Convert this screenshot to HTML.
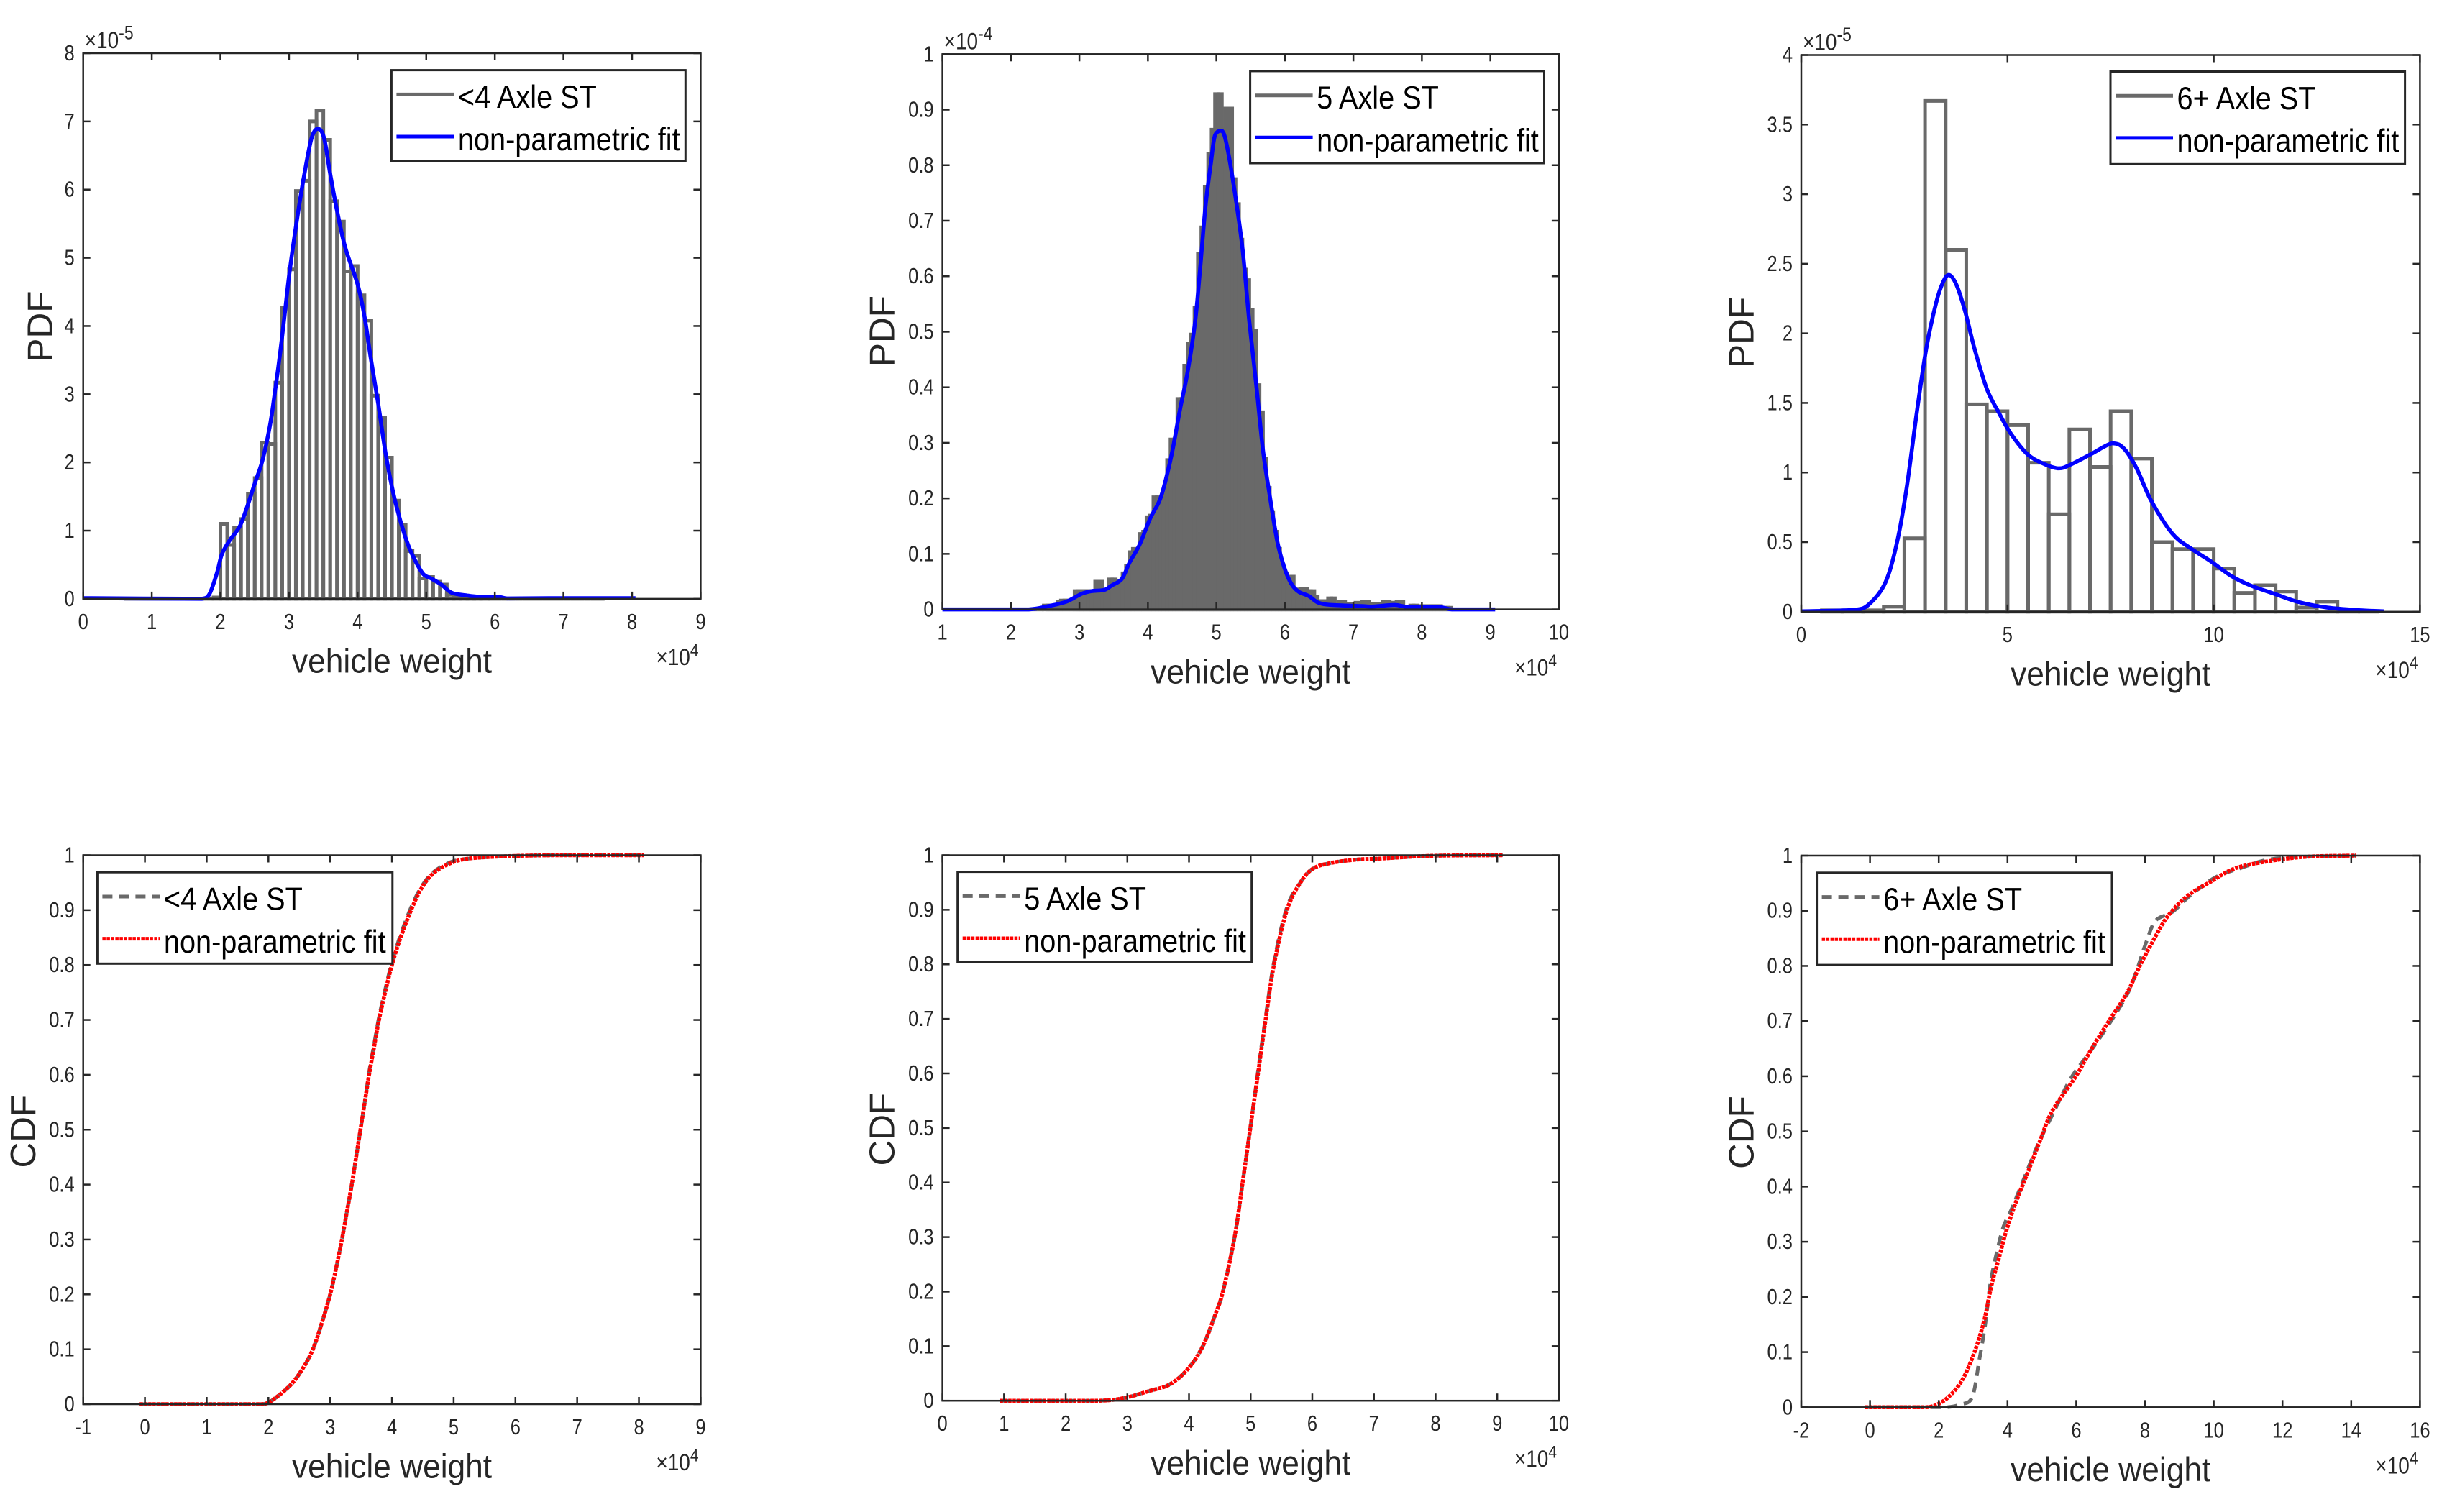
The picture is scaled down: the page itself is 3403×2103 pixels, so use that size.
<!DOCTYPE html>
<html lang="en">
<head>
<meta charset="utf-8">
<title>Vehicle weight PDF and CDF by axle class</title>
<style>
html,body{margin:0;padding:0;background:#fff;width:3403px;height:2103px;overflow:hidden}
svg{display:block;font-family:"Liberation Sans",Arial,sans-serif}
</style>
</head>
<body>
<svg id="figure" xmlns="http://www.w3.org/2000/svg" width="3403" height="2103" viewBox="0 0 3403 2103"></svg>
<script>
// ---------- tick labels ----------
const ticksX4Axle = [0,1,2,3,4,5,6,7,8,9];
const ticksY4Axle = [0,1,2,3,4,5,6,7,8];
const ticksX5Axle = [1,2,3,4,5,6,7,8,9,10];
const ticksY5Axle = [0,0.1,0.2,0.3,0.4,0.5,0.6,0.7,0.8,0.9,1];
const ticksX6Axle = [0,5,10,15];
const ticksY6Axle = [0,0.5,1,1.5,2,2.5,3,3.5,4];
const ticksCdfX4 = [-1,0,1,2,3,4,5,6,7,8,9];
const ticksCdfX5 = [0,1,2,3,4,5,6,7,8,9,10];
const ticksCdfX6 = [-2,0,2,4,6,8,10,12,14,16];
const ticksCdfY = [0,0.1,0.2,0.3,0.4,0.5,0.6,0.7,0.8,0.9,1];

// ---------- histograms (PDF panels) ----------
const hist4Start = 0.6;
const hist4Width = 0.1;
const hist4Values = [0,0,0,0,0,0,0,0,0,0,0,0,0,0.02,
 1.10,0.79,1.04,1.17,1.54,1.77,2.29,2.27,3.17,4.27,4.83,5.98,6.13,7.0,7.16,6.73,5.83,5.53,4.8,4.88,4.45,4.08,2.98,2.65,2.07,1.44,1.09,0.70,0.63,0.30,0.32,0.25,0.21,
 0.06,0.05,0.04,0.02,0.01,0.01,0,0,0,0,0,0,0,0,0,0,0,0,0,0,0,0,0];

const hist5Start = 1.73;
const hist5Width = 0.05;
const hist5Values = [0,0,0,0,0,0,0,0,0,0,0,0,0,0,0,
 0.007,0.007,0.007,0.007,0.014,0.016,0.016,0.016,0.016,0.033,0.033,0.033,0.033,0.033,0.033,0.05,0.05,0.033,0.033,0.054,0.054,0.051,0.051,0.065,0.079,0.103,0.109,0.109,0.136,0.14,0.166,0.169,0.202,0.202,0.2,0.217,0.269,0.306,0.306,0.379,0.379,0.439,0.478,0.495,0.544,0.641,0.688,0.761,0.82,0.864,0.928,0.928,0.864,0.902,0.902,
 0.775,0.73,0.666,0.612,0.593,0.539,0.502,0.404,0.355,0.272,0.219,0.174,0.14,0.109,0.08,0.065,0.059,0.059,0.036,0.031,0.037,0.037,0.033,0.033,0.023,0.015,0.015,0.015,0.02,0.02,0.008,0.014,0.014,0.01,0.01,0.01,0.012,0.008,0.014,0.014,0.006,0.01,0.01,0.006,0.014,0.014,0.012,0.012,0.014,0.014,0.005,0.005,0.007,0.007,0.006,0.006,0.002,0.006,0.006,0.006,0.006,0.003,0.003,0.003];

const hist6Start = 0.5;
const hist6Width = 0.5;
const hist6Values = [0.01,0.01,0.01,0.036,0.527,3.67,2.6,1.49,1.44,1.34,1.07,0.70,1.31,1.04,1.44,1.10,0.5,0.45,0.45,0.31,0.135,0.19,0.145,0.03,0.072,0.01,0];

// ---------- non-parametric fits (PDF panels) ----------
const pdf4X = [0,1.73,1.84,1.95,2.02,2.13,2.28,2.39,2.5,2.61,2.72,2.79,2.87,2.94,3.01,3.125,3.235,3.33,3.42,3.51,3.6,3.7,3.82,4.0,4.1,4.19,4.3,4.41,4.52,4.63,4.74,4.85,4.96,5.07,5.22,5.37,5.59,5.77,6.07,6.18,6.87,8.05];
const pdf4Y = [0.01,0,0.07,0.38,0.65,0.85,1.06,1.35,1.69,2.02,2.53,3.0,3.6,4.2,4.81,5.62,6.29,6.76,6.89,6.76,6.23,5.69,5.15,4.61,4.14,3.54,2.86,2.12,1.55,1.12,0.78,0.54,0.36,0.3,0.21,0.09,0.05,0.03,0.025,0.005,0.01,0.01];

const pdf5X = [1,2.26,2.55,2.81,3.03,3.18,3.36,3.47,3.62,3.73,3.88,4.03,4.17,4.26,4.36,4.47,4.58,4.69,4.76,4.84,4.92,4.98,5.08,5.15,5.26,5.38,5.48,5.59,5.68,5.78,5.89,5.99,6.09,6.2,6.35,6.49,6.68,7.12,7.27,7.6,7.82,8.26,8.44,9.07];
const pdf5Y = [0,0,0.006,0.014,0.028,0.033,0.035,0.043,0.055,0.084,0.117,0.163,0.196,0.233,0.287,0.361,0.428,0.519,0.61,0.725,0.804,0.854,0.862,0.837,0.758,0.651,0.519,0.395,0.287,0.204,0.122,0.076,0.047,0.032,0.024,0.012,0.008,0.006,0.005,0.008,0.004,0.004,0,0];

const pdf6X = [0,1.28,1.63,2.04,2.33,2.56,2.8,3.03,3.27,3.44,3.58,3.76,3.97,4.2,4.5,4.79,5.08,5.49,5.9,6.25,6.55,7.01,7.54,7.83,8.13,8.48,9.0,9.47,9.94,10.41,10.88,11.46,12.05,12.75,13.57,14.12];
const pdf6Y = [0.003,0.013,0.05,0.21,0.51,0.9,1.43,1.89,2.22,2.37,2.42,2.35,2.16,1.89,1.6,1.43,1.28,1.13,1.06,1.03,1.06,1.13,1.21,1.17,1.03,0.8,0.56,0.45,0.36,0.26,0.19,0.13,0.07,0.03,0.01,0.003];

// ---------- CDF series ----------
const cdf4X = [-0.085,1.9,2.06,2.35,2.55,2.72,2.87,3.0,3.1,3.19,3.27,3.35,3.42,3.49,3.56,3.63,3.71,3.79,3.89,4.0,4.14,4.31,4.48,4.68,4.96,5.25,5.82,6.64,8.08];
const cdf4Fit = [0,0,0.007,0.034,0.064,0.1,0.15,0.2,0.25,0.3,0.35,0.4,0.45,0.5,0.55,0.6,0.65,0.7,0.75,0.8,0.85,0.9,0.94,0.968,0.986,0.994,0.998,1,1];
const cdf4Emp = [0,0,0.007,0.034,0.064,0.1,0.15,0.2,0.25,0.3,0.35,0.4,0.45,0.5,0.55,0.605,0.655,0.705,0.755,0.805,0.855,0.905,0.943,0.97,0.988,0.994,0.998,1,1];

const cdf5X = [0.93,2.55,2.95,3.36,3.69,3.98,4.22,4.43,4.55,4.74,4.87,4.995,5.12,5.245,5.38,5.59,5.82,6.02,6.31,6.72,7.13,7.95,9.09];
const cdf5Fit = [0,0,0.005,0.018,0.03,0.058,0.099,0.159,0.2,0.3,0.4,0.5,0.6,0.7,0.8,0.9,0.952,0.976,0.986,0.992,0.994,0.999,1];
const cdf5Emp = [0,0,0.005,0.018,0.03,0.058,0.099,0.159,0.2,0.3,0.4,0.5,0.605,0.705,0.805,0.905,0.952,0.976,0.986,0.992,0.994,0.999,1];

const cdf6FitX = [-0.15,1.64,1.99,2.34,2.69,3.04,3.32,3.53,3.74,3.96,4.24,4.59,4.94,5.3,5.99,6.45,6.95,7.47,7.85,8.24,8.66,9.22,9.92,10.63,11.61,12.73,14.14];
const cdf6Fit = [0,0,0.006,0.022,0.05,0.1,0.157,0.22,0.268,0.319,0.371,0.426,0.482,0.537,0.6,0.65,0.7,0.75,0.8,0.846,0.89,0.926,0.953,0.977,0.99,0.998,1];
const cdf6EmpX = [-0.15,2.2,2.62,2.97,3.18,3.35,3.49,3.67,3.88,4.09,4.45,4.87,5.36,5.85,6.41,6.97,7.47,7.75,8.03,8.31,8.8,9.36,10.06,10.77,11.61,12.73,14.14];
const cdf6Emp = [0,0,0.005,0.018,0.086,0.149,0.22,0.276,0.327,0.355,0.41,0.474,0.537,0.597,0.645,0.696,0.747,0.79,0.842,0.882,0.898,0.93,0.961,0.977,0.993,0.998,1];

// ---------- layout (panel frames, not data) ----------
const NS = 'http://www.w3.org/2000/svg';
const svg = document.getElementById('figure');
const INK = '#262626', GREY = '#696969';
const panels = [
 {id:'pdf-4-axle',l:115.7,r:974.4,t:74,b:832.9,xMin:0,xMax:9,yMin:0,yMax:8,xt:ticksX4Axle,yt:ticksY4Axle,yl:'PDF',yx:72.3,yc:454,exp:'-5',leg:[544.4,97.6,408.9,126.3],name:'<4 Axle ST',hist:[hist4Start,hist4Width,hist4Values],fitX:pdf4X,fitY:pdf4Y},
 {id:'pdf-5-axle',l:1310.6,r:2167.9,t:75.3,b:847.6,xMin:1,xMax:10,yMin:0,yMax:1,xt:ticksX5Axle,yt:ticksY5Axle,yl:'PDF',yx:1243.3,yc:460.5,exp:'-4',leg:[1738.6,98.9,408.9,128.1],name:'5 Axle ST',hist:[hist5Start,hist5Width,hist5Values],fitX:pdf5X,fitY:pdf5Y},
 {id:'pdf-6-axle',l:2505,r:3365.4,t:76.5,b:850.8,xMin:0,xMax:15,yMin:0,yMax:4,xt:ticksX6Axle,yt:ticksY6Axle,yl:'PDF',yx:2438.6,yc:462.4,exp:'-5',leg:[2935,99.5,409.6,128.8],name:'6+ Axle ST',hist:[hist6Start,hist6Width,hist6Values],fitX:pdf6X,fitY:pdf6Y},
 {id:'cdf-4-axle',l:115.7,r:974.4,t:1189.5,b:1953,xMin:-1,xMax:9,yMin:0,yMax:1,xt:ticksCdfX4,yt:ticksCdfY,yl:'CDF',yx:49,yc:1573.7,leg:[135.4,1213.2,410.4,127.1],name:'<4 Axle ST',empX:cdf4X,empY:cdf4Emp,fitX:cdf4X,fitY:cdf4Fit},
 {id:'cdf-5-axle',l:1310.6,r:2167.9,t:1189.5,b:1948.2,xMin:0,xMax:10,yMin:0,yMax:1,xt:ticksCdfX5,yt:ticksCdfY,yl:'CDF',yx:1243.3,yc:1570.7,leg:[1331.7,1212.6,409,125.8],name:'5 Axle ST',empX:cdf5X,empY:cdf5Emp,fitX:cdf5X,fitY:cdf5Fit},
 {id:'cdf-6-axle',l:2505,r:3365.4,t:1190,b:1957.3,xMin:-2,xMax:16,yMin:0,yMax:1,xt:ticksCdfX6,yt:ticksCdfY,yl:'CDF',yx:2438.6,yc:1575,leg:[2526.6,1213.8,410.4,128.3],name:'6+ Axle ST',empX:cdf6EmpX,empY:cdf6Emp,fitX:cdf6FitX,fitY:cdf6Fit}
];

function make(tag, attrs, parent){
  const e = document.createElementNS(NS, tag);
  for (const k in attrs) e.setAttribute(k, attrs[k]);
  parent.appendChild(e);
  return e;
}
function label(parent, str, x, y, size, anchor, sy, color){
  const e = make('text',{transform:'translate('+x+','+y+') scale(1,'+sy+')','font-size':size,'text-anchor':anchor,fill:color},parent);
  e.textContent = str;
  return e;
}
// smooth path through the data points (Catmull-Rom, controls clamped to the segment's y-range)
function curvePath(xs, ys, sx, sy){
  const pts = xs.map(function(v,i){return [sx(v), sy(ys[i])];});
  let d = 'M'+pts[0][0].toFixed(2)+' '+pts[0][1].toFixed(2);
  for (let i=0;i<pts.length-1;i++){
    const p0 = pts[Math.max(i-1,0)], p1 = pts[i], p2 = pts[i+1], p3 = pts[Math.min(i+2,pts.length-1)];
    const lo = Math.min(p1[1],p2[1]), hi = Math.max(p1[1],p2[1]);
    const dx = p2[0]-p1[0];
    const c1x = p1[0]+Math.min((p2[0]-p0[0])/6,dx/2), c2x = p2[0]-Math.min((p3[0]-p1[0])/6,dx/2);
    const c1y = Math.min(hi,Math.max(lo,p1[1]+(p2[1]-p0[1])*0.1667)), c2y = Math.min(hi,Math.max(lo,p2[1]-(p3[1]-p1[1])*0.1667));
    d += ' C'+c1x.toFixed(2)+' '+c1y.toFixed(2)+' '+c2x.toFixed(2)+' '+c2y.toFixed(2)+' '+p2[0].toFixed(2)+' '+p2[1].toFixed(2);
  }
  return d;
}

panels.forEach(function(p){
  const g = make('g',{},svg);
  
  
  const sx = function(v){return p.l + (v-p.xMin)/(p.xMax-p.xMin)*(p.r-p.l);};
  const sy = function(v){return p.b - (v-p.yMin)/(p.yMax-p.yMin)*(p.b-p.t);};

  const isPdf = !!p.hist;
  if (isPdf) {
    const hg = make('g',{fill:'none',stroke:GREY,'stroke-width':5,'stroke-linejoin':'miter'},g);
    
    
    p.hist[2].forEach(function(v,i){
      const x0 = sx(p.hist[0]+i*p.hist[1]), x1 = sx(p.hist[0]+(i+1)*p.hist[1]);
      const bar = make('path',{d:'M'+x0.toFixed(2)+' '+sy(0)+' L'+x0.toFixed(2)+' '+sy(v).toFixed(2)+' L'+x1.toFixed(2)+' '+sy(v).toFixed(2)+' L'+x1.toFixed(2)+' '+sy(0)+' Z'},hg);
      
      
    });
    const fit = make('path',{d:curvePath(p.fitX,p.fitY,sx,sy),fill:'none',stroke:'#0000ff','stroke-width':5.5,'stroke-linejoin':'round'},g);
    
    
  } else {
    const emp = make('path',{d:curvePath(p.empX,p.empY,sx,sy),fill:'none',stroke:GREY,'stroke-width':5,'stroke-dasharray':'14 9'},g);
    
    
    const fit = make('path',{d:curvePath(p.fitX,p.fitY,sx,sy),fill:'none',stroke:'#ff0000','stroke-width':5.5,'stroke-dasharray':'4.5 1.5'},g);
    
    
  }

  // frame
  const frame = make('rect',{x:p.l,y:p.t,width:p.r-p.l,height:p.b-p.t,fill:'none',stroke:INK,'stroke-width':2.5},g);
  
  

  // ticks
  p.xt.forEach(function(v){
    const x = sx(v);
    const t1 = make('line',{x1:x,x2:x,y1:p.b,y2:p.b-10,stroke:INK,'stroke-width':2.5},g);
    
    
    const t2 = make('line',{x1:x,x2:x,y1:p.t,y2:p.t+10,stroke:INK,'stroke-width':2.5},g);
    
    
    const tl = label(g,String(v),x,p.b+42,25.5,'middle',1.18,INK);
    
    
  });
  p.yt.forEach(function(v){
    const y = sy(v);
    const t1 = make('line',{x1:p.l,x2:p.l+10,y1:y,y2:y,stroke:INK,'stroke-width':2.5},g);
    
    
    const t2 = make('line',{x1:p.r,x2:p.r-10,y1:y,y2:y,stroke:INK,'stroke-width':2.5},g);
    
    
    const tl = label(g,String(v),p.l-12,y+10,25.5,'end',1.18,INK);
    
    
  });

  // axis titles
  const xTitle = label(g,'vehicle weight',(p.l+p.r)/2,p.b+102.7,44.3,'middle',1.06,INK);
  
  
  const yTitle = make('text',{transform:'translate('+p.yx+','+p.yc+') rotate(-90)','font-size':49.5,'text-anchor':'middle',fill:INK},g);
  yTitle.textContent = p.yl;
  
  

  // x multiplier
  const xExp = label(g,'×10',p.r-62,p.b+92,28,'start',1.15,INK);
  const xSup = make('tspan',{dy:-11,'font-size':21},xExp);
  xSup.textContent = '4';
  
  

  // y multiplier
  if (p.exp) {
    const yExp = label(g,'×10',p.l+2,p.t-7,28,'start',1.15,INK);
    const ySup = make('tspan',{dy:-11,'font-size':23},yExp);
    ySup.textContent = p.exp;
    
    
  }

  // legend
  const L = p.leg;
  const lg = make('g',{},g);
  
  
  const box = make('rect',{x:L[0],y:L[1],width:L[2],height:L[3],fill:'#fff',stroke:INK,'stroke-width':3},lg);
  
  
  const lineX0 = L[0]+7, lineX1 = L[0]+87, textX = L[0]+92.5;
  const k1 = make('line',{x1:lineX0,x2:lineX1,y1:L[1]+33.8,y2:L[1]+33.8,stroke:GREY,'stroke-width':5},lg);
  if (!isPdf) k1.setAttribute('stroke-dasharray','14 9');
  
  
  const t1 = label(lg,p.name,textX,L[1]+52.3,39.7,'start',1.12,'#000');
  
  
  const k2 = make('line',{x1:lineX0,x2:lineX1,y1:L[1]+92.4,y2:L[1]+92.4,stroke:isPdf?'#0000ff':'#ff0000','stroke-width':5},lg);
  if (!isPdf) k2.setAttribute('stroke-dasharray','4.5 1.5');
  
  
  const t2 = label(lg,'non-parametric fit',textX,L[1]+111.6,39.7,'start',1.12,'#000');
  
  
});
</script>
</body>
</html>
